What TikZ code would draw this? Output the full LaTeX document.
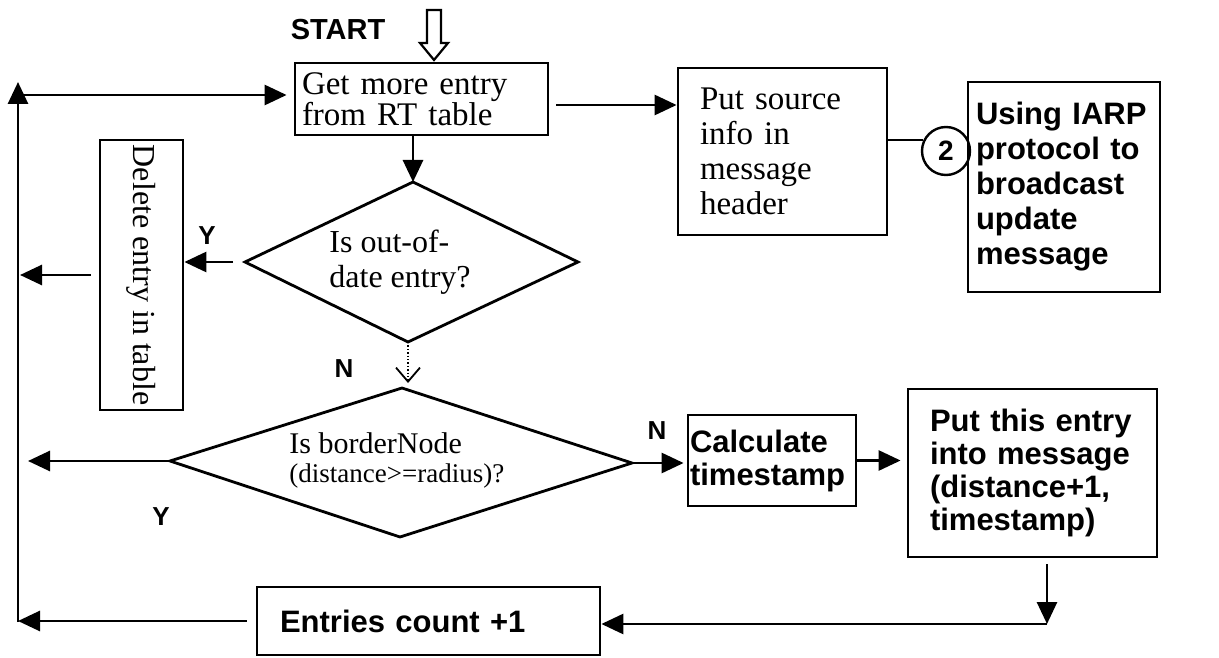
\documentclass[tikz,border=0pt]{standalone}
\usepackage{fontspec}
\usepackage{graphicx}
\setmainfont{Liberation Serif}
\setsansfont{Liberation Sans}
\usetikzlibrary{arrows.meta}

\begin{document}
\begin{tikzpicture}[x=1pt,y=-1pt,
  line width=2.8pt,
  flow/.style={-{Triangle[length=22pt,width=20pt]}, line width=2.8pt},
  boxnode/.style={draw, line width=2.8pt, inner ysep=0pt, align=left},
  serif/.style={font=\fontsize{33}{35}\selectfont},
  sans/.style={font=\sffamily\bfseries\fontsize{31}{33}\selectfont},
  lbl/.style={font=\sffamily\bfseries\fontsize{26}{26}\selectfont, inner sep=0pt}
]
\useasboundingbox (0,0) rectangle (1219,658);

% process boxes
\node[boxnode, font=\fontsize{33}{31}\selectfont, minimum width=253pt, minimum height=72pt,
      text width=239pt, inner xsep=7pt] (get) at (421.5,99)
      {Get more entry\\from RT table};
\node[boxnode, serif, minimum width=209pt, minimum height=167pt,
      text width=165pt, inner xsep=22pt] (src) at (782.5,151.5)
      {Put source\\info in\\message\\header};
\node[boxnode, sans, font=\sffamily\bfseries\fontsize{31}{35}\selectfont,
      minimum width=192pt, minimum height=210pt,
      text width=176pt, inner xsep=8pt] (iarp) at (1064,187)
      {Using IARP\\protocol to\\broadcast\\update\\message};
\node[draw, line width=2.8pt, minimum width=83pt, minimum height=270pt,
      inner sep=0pt, font=\fontsize{32}{35}\selectfont] (del) at (141.5,275)
      {\rotatebox{-90}{Delete entry in table}};
\node[boxnode, sans, minimum width=168pt, minimum height=91pt,
      text width=164pt, inner xsep=2pt] (calc) at (772,460.5)
      {Calculate\\timestamp};
\node[boxnode, sans, minimum width=249pt, minimum height=168pt,
      text width=205pt, inner xsep=22pt] (put) at (1032.5,473)
      {Put this entry\\into message\\(distance+1,\\timestamp)};
\node[boxnode, sans, minimum width=343pt, minimum height=68pt,
      text width=297pt, inner xsep=23pt] (cnt) at (428.5,621)
      {Entries count +1};

% connector circle
\node[circle, draw, line width=2.4pt, minimum size=48pt, inner sep=0pt,
      font=\sffamily\bfseries\fontsize{28}{28}\selectfont] (circ) at (946,151) {2};

% decision diamonds
\coordinate (d1t) at (413,182);
\coordinate (d1r) at (578,262);
\coordinate (d1b) at (408,342);
\coordinate (d1l) at (245,262);
\draw[line width=2.8pt, line join=miter] (d1t) -- (d1r) -- (d1b) -- (d1l) -- cycle;
\node[font=\fontsize{32}{35}\selectfont, align=left, anchor=west, inner sep=0pt] (q1)
      at (328,262) {Is out-of-\\date entry?};

\coordinate (d2t) at (402,388);
\coordinate (d2r) at (632,463);
\coordinate (d2b) at (400,537);
\coordinate (d2l) at (170,461);
\draw[line width=2.8pt, line join=miter] (d2t) -- (d2r) -- (d2b) -- (d2l) -- cycle;
\node[font=\fontsize{30}{30}\selectfont, anchor=base west, inner sep=0pt] (q2a)
      at (288,453) {Is borderNode};
\node[font=\fontsize{27}{27}\selectfont, anchor=base west, inner sep=0pt] (q2b)
      at (288,482) {(distance>=radius)?};

% start marker
\node[lbl, font=\sffamily\bfseries\fontsize{29}{29}\selectfont] (start) at (338,30) {START};
\draw[line width=2.2pt, line join=miter]
  (427,10) -- (441,10) -- (441,43) -- (448,43) -- (434,60) -- (420,43) -- (427,43) -- cycle;

% branch labels
\node[lbl] (y1) at (207,236) {Y};
\node[lbl] (n1) at (344,369) {N};
\node[lbl] (y2) at (161,517) {Y};
\node[lbl] (n2) at (657,431) {N};

% return rail on the left
\coordinate (railtop) at (18,82);
\coordinate (railbot) at (18,622);
\coordinate (railjoin) at (18,95);
\draw[flow] (railbot) -- (railtop);
\draw[flow, shorten >=7pt] (railjoin) -- (railjoin -| get.west);

% flow connectors
\draw[flow] (get.south -| d1t) -- (d1t);
\draw[flow, shorten <=7pt] ([yshift=-6pt]get.east) -- ([yshift=-6pt]get.east -| src.west);
\draw[line width=2.8pt] (src.east |- circ.154) -- (circ.154);
\draw[flow, shorten <=12pt] (d1l) -- (d1l -| del.east);
\draw[flow, shorten <=8pt, shorten >=2pt] (del.west) -- (del.west -| railtop);
\coordinate (vtip) at (408,383);
\draw[dotted, line width=1.4pt, -{Straight Barb[length=14pt,width=24pt,line width=1.8pt]}]
  (d1b) -- (vtip);
\draw[flow, shorten >=10pt] (d2l) -- (d2l -| railtop);
\draw[flow, shorten >=3pt] (d2r) -- (d2r -| calc.west);
\draw[flow, shorten >=6pt] (calc.east) -- (calc.east -| put.west);
\coordinate (corner) at (1047,624);
\draw[flow, shorten <=6pt] (put.south -| corner) -- (corner);
\draw[flow] (corner) -- (corner -| cnt.east);
\draw[flow, shorten <=9pt] (cnt.west) -- (cnt.west -| railtop);
\end{tikzpicture}
\end{document}
